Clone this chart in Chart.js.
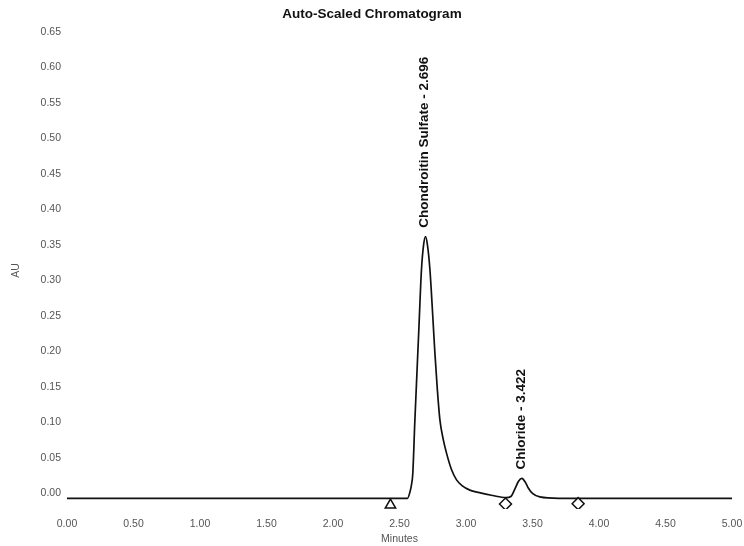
<!DOCTYPE html>
<html>
<head>
<meta charset="utf-8">
<script src="https://cdn.jsdelivr.net/npm/chart.js@4/dist/chart.umd.min.js"></script>
<style>
  html, body { margin: 0; padding: 0; background: #ffffff; }
  #wrap { width: 744px; height: 546px; position: relative; }
</style>
</head>
<body>
<div id="wrap"><canvas id="c" width="744" height="546"></canvas></div>
<script>
// ---- data ----
const chartTitle = 'Auto-Scaled Chromatogram';
const xTitle = 'Minutes';
const yTitle = 'AU';

const times = [0.00, 1.00, 2.00, 2.40, 2.56, 2.58, 2.59, 2.60, 2.615, 2.645, 2.665, 2.68, 2.695, 2.71, 2.729, 2.75, 2.766, 2.785, 2.804, 2.83, 2.853, 2.89, 2.929, 2.97, 3.029, 3.10, 3.20, 3.30, 3.34, 3.367, 3.395, 3.42, 3.445, 3.467, 3.50, 3.555, 3.70, 4.00, 4.50, 5.00];
const absorbance = [-0.007, -0.007, -0.007, -0.007, -0.007, 0.003, 0.012, 0.028, 0.100, 0.229, 0.3145, 0.348, 0.3614, 0.350, 0.3145, 0.250, 0.198, 0.145, 0.103, 0.075, 0.057, 0.034, 0.019, 0.011, 0.0046, 0.001, -0.003, -0.006, -0.004, 0.006, 0.017, 0.021, 0.016, 0.008, 0.000, -0.005, -0.007, -0.007, -0.007, -0.007];

const markerTimes = [2.432, 3.297, 3.843];
const markerValues = [-0.0165, -0.015, -0.0145];
const markerShapes = ['triangle', 'rectRot', 'rectRot'];

const peakNames = ['Chondroitin Sulfate - 2.696', 'Chloride - 3.422'];
const peakTimes = [2.696, 3.422];
const peakHeights = [0.3614, 0.021];

const yTickValues = [0.00, 0.05, 0.10, 0.15, 0.20, 0.25, 0.30, 0.35, 0.40, 0.45, 0.50, 0.55, 0.60, 0.65];
const xTickValues = [0.00, 0.50, 1.00, 1.50, 2.00, 2.50, 3.00, 3.50, 4.00, 4.50, 5.00];

// ---- build library structures ----
const tracePoints = times.map((t, i) => ({ x: t, y: absorbance[i] }));
const markerPoints = markerTimes.map((t, i) => ({ x: t, y: markerValues[i] }));

const FONT = "'Liberation Sans', Arial, sans-serif";

const peakLabelPlugin = {
  id: 'peakLabels',
  afterDatasetsDraw(chart) {
    const { ctx, scales } = chart;
    ctx.save();
    ctx.fillStyle = '#111';
    ctx.font = 'bold 13.5px ' + FONT;
    ctx.textAlign = 'left';
    ctx.textBaseline = 'middle';
    peakNames.forEach((name, i) => {
      const px = scales.x.getPixelForValue(peakTimes[i]);
      const py = scales.y.getPixelForValue(peakHeights[i]);
      ctx.save();
      ctx.translate(px - 1, py - 9);
      ctx.rotate(-Math.PI / 2);
      ctx.fillText(name, 0, 0);
      ctx.restore();
    });
    ctx.restore();
  }
};

new Chart(document.getElementById('c'), {
  type: 'scatter',
  data: {
    datasets: [
      {
        label: 'trace',
        data: tracePoints,
        showLine: true,
        borderColor: '#111',
        borderWidth: 1.7,
        pointRadius: 0,
        cubicInterpolationMode: 'monotone',
        fill: false,
        order: 2
      },
      {
        label: 'markers',
        data: markerPoints,
        showLine: false,
        pointStyle: markerShapes,
        pointRadius: 6,
        pointBackgroundColor: '#ffffff',
        pointBorderColor: '#111',
        pointBorderWidth: 1.5,
        order: 1
      }
    ]
  },
  options: {
    responsive: false,
    animation: false,
    layout: { padding: { left: 0, right: 0, top: 0, bottom: 0 } },
    plugins: {
      legend: { display: false },
      tooltip: { enabled: false },
      title: {
        display: true,
        text: chartTitle,
        color: '#111',
        font: { family: FONT, size: 13.5, weight: 'bold' },
        padding: { top: 6, bottom: 9.5 }
      }
    },
    scales: {
      x: {
        type: 'linear',
        min: 0,
        max: 5,
        grid: { display: false, drawTicks: false },
        border: { display: false },
        afterBuildTicks(scale) { scale.ticks = xTickValues.map(v => ({ value: v })); },
        afterFit(scale) { scale.height = 37; scale.paddingLeft = 0; scale.paddingRight = 12; },
        ticks: {
          color: '#555',
          font: { family: FONT, size: 10.5 },
          padding: 9,
          maxRotation: 0,
          autoSkip: false,
          callback: v => Number(v).toFixed(2)
        },
        title: {
          display: true,
          text: xTitle,
          color: '#555',
          font: { family: FONT, size: 10.5 },
          padding: { top: 0, bottom: 1 }
        }
      },
      y: {
        type: 'linear',
        min: -0.022,
        max: 0.65,
        grid: { display: false, drawTicks: false },
        border: { display: false },
        afterBuildTicks(scale) { scale.ticks = yTickValues.map(v => ({ value: v })); },
        afterFit(scale) { scale.width = 67; scale.paddingTop = 0; scale.paddingBottom = 0; },
        ticks: {
          color: '#555',
          font: { family: FONT, size: 10.5 },
          padding: 6,
          autoSkip: false,
          callback: v => Number(v).toFixed(2)
        },
        title: {
          display: true,
          text: yTitle,
          color: '#555',
          font: { family: FONT, size: 10.5 },
          padding: { top: 10, bottom: 0 }
        }
      }
    }
  },
  plugins: [peakLabelPlugin]
});
</script>
</body>
</html>
